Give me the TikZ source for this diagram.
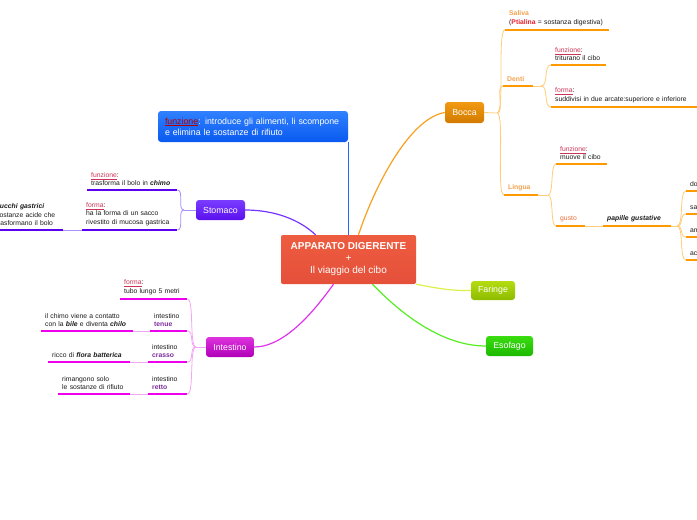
\documentclass[tikz,border=0pt]{standalone}
\usepackage{fontspec}
\setmainfont{Liberation Sans}
\usetikzlibrary{positioning, calc}

\definecolor{rootred}{HTML}{E8553B}
\definecolor{fzred}{HTML}{CC3355}
\definecolor{ptred}{HTML}{E8202A}
\definecolor{orlab}{HTML}{F2A04A}
\definecolor{gustocol}{HTML}{E8703A}
\definecolor{intcol}{HTML}{7A2A9A}
\definecolor{obar}{HTML}{FF9900}
\definecolor{otwig}{HTML}{FFCC77}
\definecolor{pbar}{HTML}{5A00F0}
\definecolor{ptwig}{HTML}{A890FF}
\definecolor{mbar}{HTML}{EE00EE}
\definecolor{mtwig}{HTML}{F5A5F5}
\definecolor{orline}{HTML}{F7A020}
\definecolor{blueline}{HTML}{2266FF}
\definecolor{purpline}{HTML}{7733FF}
\definecolor{magline}{HTML}{E033F0}
\definecolor{yelline}{HTML}{DDF04A}
\definecolor{grnline}{HTML}{55EE22}

\newcommand{\fz}[1]{\textcolor{fzred}{\underline{#1}}}
\newcommand{\bi}[1]{\textbf{\textit{#1}}}

\begin{document}
\begin{tikzpicture}[x=1pt,y=-1pt,font=\fontsize{6.8}{8.5}\selectfont,
  topic/.style={rounded corners=3pt,text=white,inner sep=0pt,font=\fontsize{8.8}{10}\selectfont},
  leaf/.style={anchor=south west,align=left,inner xsep=4pt,inner ysep=4pt,text=black!90},
  main/.style={line width=1.2pt},
  bar/.style={line width=2pt},
  twig/.style={line width=0.8pt}]
  \useasboundingbox (0,0) rectangle (697,520);
  \clip (0,0) rectangle (697,520);

  % centre and main topics
  \node[rounded corners=2pt,top color={rgb,255:red,238;green,92;blue,64},bottom color={rgb,255:red,228;green,80;blue,58},text=white,
        minimum width=135pt,minimum height=49pt,align=center,font=\fontsize{10}{12}\selectfont]
        (root) at (348.5,259.5) {\textbf{APPARATO DIGERENTE}\\+\\Il viaggio del cibo};
  \node[topic,top color={rgb,255:red,48;green,128;blue,255},bottom color={rgb,255:red,10;green,90;blue,240},
        minimum width=190pt,minimum height=31pt,align=left,text width=176pt,font=\fontsize{8.8}{11}\selectfont] (funz) at (253,126.5)
        {\textcolor{red!70!black}{\underline{funzione}}: introduce gli alimenti, li scompone\\e elimina le sostanze di rifiuto};
  \node[topic,top color={rgb,255:red,242;green,154;blue,16},bottom color={rgb,255:red,210;green,122;blue,0},
        minimum width=39pt,minimum height=21pt] (bocca) at (464.5,112.5) {Bocca};
  \node[topic,top color={rgb,255:red,181;green,220;blue,16},bottom color={rgb,255:red,141;green,187;blue,0},
        minimum width=44pt,minimum height=19pt] (faringe) at (493,290.5) {Faringe};
  \node[topic,top color={rgb,255:red,58;green,221;blue,16},bottom color={rgb,255:red,28;green,184;blue,0},
        minimum width=47pt,minimum height=20pt] (esofago) at (509.5,346) {Esofago};
  \node[topic,top color={rgb,255:red,122;green,60;blue,255},bottom color={rgb,255:red,90;green,16;blue,238},
        minimum width=49pt,minimum height=20pt] (stomaco) at (220.5,210) {Stomaco};
  \node[topic,top color={rgb,255:red,221;green,51;blue,221},bottom color={rgb,255:red,176;green,0;blue,184},
        minimum width=48pt,minimum height=20pt] (intestino) at (230,347) {Intestino};

  \draw[main,orline] ([xshift=10pt]root.north) .. controls (375,185) and (410,118) .. (bocca.west);
  \draw[main,blueline] (root.north) -- (root.north |- funz.south);
  \draw[main,purpline] ([xshift=-33pt]root.north) .. controls (300,220) and (275,210) .. (stomaco.east);
  \draw[main,magline] ([xshift=-15pt]root.south) .. controls (315,310) and (285,347) .. (intestino.east);
  \draw[main,yelline] (root.south east) .. controls (440,289) and (455,291) .. (faringe.west);
  \draw[main,grnline] ([xshift=24pt]root.south) .. controls (405,318) and (445,346) .. (esofago.west);

  % Bocca
  \node[leaf,text width=96pt] (saliva) at (505,30) {\textcolor{orlab}{\textbf{Saliva}}\\(\textcolor{ptred}{\textbf{Ptialina}} = sostanza digestiva)};
  \node[leaf,text width=22pt] (denti) at (503,86) {\textcolor{orlab}{\textbf{Denti}}};
  \node[leaf,text width=47pt] (dfunz) at (551,65) {\fz{funzione}:\\triturano il cibo};
  \node[leaf,text width=138pt] (dforma) at (551,107) {\fz{forma}:\\suddivisi in due arcate:superiore e inferiore};
  \node[leaf,text width=26pt] (lingua) at (504,195) {\textcolor{orlab}{\textbf{Lingua}}};
  \node[leaf,text width=43pt] (lfunz) at (556,164) {\fz{funzione}:\\muove il cibo};
  \node[leaf,text width=21pt] (gusto) at (556,226) {\textcolor{gustocol}{gusto}};
  \node[leaf,text width=60pt] (papille) at (603,226) {\bi{papille gustative}};
  \foreach \y/\w [count=\i] in {191/dolce,214/salato,237/amaro,260/acido}
    \node[leaf,text width=30pt] (taste\i) at (686,\y) {\w};

  \coordinate (bfork) at (497,113);
  \coordinate (dfork) at (541,86);
  \coordinate (lfork) at (548,195);
  \coordinate (pfork) at (677,226);
  \draw[twig,otwig] (bocca.east) -- (bfork);
  \foreach \c in {saliva,denti,lingua}
    \draw[twig,otwig] (bfork) .. controls +(8,0) and +(-8,0) .. (\c.south west);
  \draw[twig,otwig] (denti.south east) -- (dfork);
  \foreach \c in {dfunz,dforma}
    \draw[twig,otwig] (dfork) .. controls +(8,0) and +(-8,0) .. (\c.south west);
  \draw[twig,otwig] (lingua.south east) -- (lfork);
  \foreach \c in {lfunz,gusto}
    \draw[twig,otwig] (lfork) .. controls +(6,0) and +(-6,0) .. (\c.south west);
  \draw[twig,otwig] (gusto.south east) -- (papille.south west);
  \draw[twig,otwig] (papille.south east) -- (pfork);
  \foreach \i in {1,...,4}
    \draw[twig,otwig] (pfork) .. controls +(7,0) and +(-7,0) .. (taste\i.south west);
  \foreach \c in {saliva,denti,dfunz,dforma,lingua,lfunz,gusto,papille,taste1,taste2,taste3,taste4}
    \draw[bar,obar] (\c.south west) -- (\c.south east);

  % Stomaco
  \node[leaf,text width=82pt] (sfunz) at (87,190) {\fz{funzione}:\\trasforma il bolo in \bi{chimo}};
  \node[leaf,text width=87pt] (sforma) at (82,230) {\fz{forma}:\\ha la forma di un sacco\\rivestito di mucosa gastrica};
  \node[leaf,text width=63pt] (succhi) at (-8,230) {\bi{succhi gastrici}\\sostanze acide che\\trasformano il bolo};
  \coordinate (sfork) at (184,210);
  \draw[twig,ptwig] (stomaco.west) -- (sfork);
  \foreach \c in {sfunz,sforma}
    \draw[twig,ptwig] (sfork) .. controls +(-7,0) and +(7,0) .. (\c.south east);
  \draw[twig,ptwig] (sforma.south west) -- (succhi.south east);
  \foreach \c in {sfunz,sforma,succhi}
    \draw[bar,pbar] (\c.south west) -- (\c.south east);

  % Intestino
  \node[leaf,text width=59pt] (iforma) at (120,299) {\fz{forma}:\\tubo lungo 5 metri};
  \node[leaf,text width=29pt] (tenue) at (150,331) {intestino\\\textcolor{intcol}{\textbf{tenue}}};
  \node[leaf,text width=84pt] (tenuet) at (41,331) {il chimo viene a contatto\\con la \bi{bile} e diventa \bi{chilo}};
  \node[leaf,text width=31pt] (crasso) at (148,362) {intestino\\\textcolor{intcol}{\textbf{crasso}}};
  \node[leaf,text width=74pt] (crassot) at (48,362) {ricco di \bi{flora batterica}};
  \node[leaf,text width=31pt] (retto) at (148,394) {intestino\\\textcolor{intcol}{\textbf{retto}}};
  \node[leaf,text width=64pt] (rettot) at (58,394) {rimangono solo\\le sostanze di rifiuto};
  \coordinate (ifork) at (196,347);
  \draw[twig,mtwig] (intestino.west) -- (ifork);
  \foreach \c in {iforma,tenue,crasso,retto}
    \draw[twig,mtwig] (ifork) .. controls +(-7,0) and +(7,0) .. (\c.south east);
  \foreach \a/\b in {tenue/tenuet,crasso/crassot,retto/rettot}
    \draw[twig,mtwig] (\a.south west) -- (\b.south east);
  \foreach \c in {iforma,tenue,tenuet,crasso,crassot,retto,rettot}
    \draw[bar,mbar] (\c.south west) -- (\c.south east);
\end{tikzpicture}
\end{document}
